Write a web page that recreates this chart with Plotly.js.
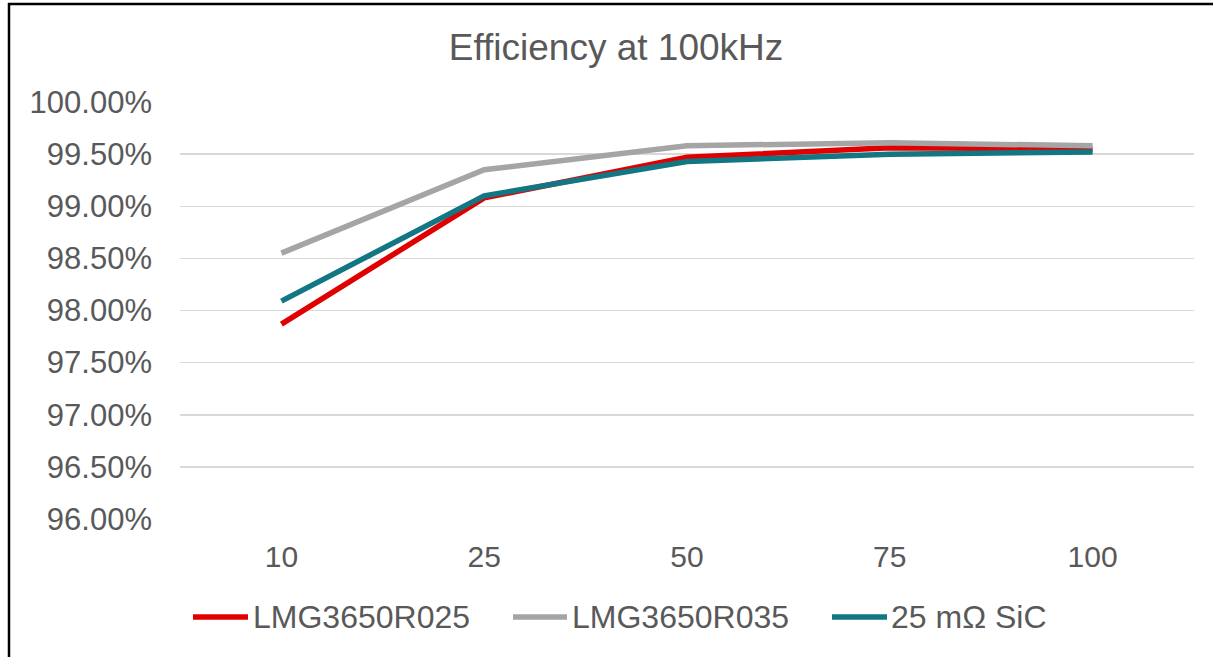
<!DOCTYPE html>
<html>
<head>
<meta charset="utf-8">
<script src="https://cdn.plot.ly/plotly-3.0.1.min.js"></script>
<style>
  html, body { margin: 0; padding: 0; background: #fff; }
  #chart { width: 1213px; height: 657px; }
</style>
</head>
<body>
<div id="chart"></div>
<script>
// Load levels (x axis categories)
const loads = ['10', '25', '50', '75', '100'];

// Efficiency (%) per device
const seriesNames = ['LMG3650R025', 'LMG3650R035', '25 mΩ SiC'];
const effR025 = [97.87, 99.08, 99.47, 99.56, 99.55];
const effR035 = [98.55, 99.35, 99.58, 99.61, 99.58];
const effSiC  = [98.09, 99.10, 99.43, 99.50, 99.52];

// Y axis ticks
const yTickVals = [96.0, 96.5, 97.0, 97.5, 98.0, 98.5, 99.0, 99.5, 100.0];
const yTickText = ['96.00%', '96.50%', '97.00%', '97.50%', '98.00%', '98.50%', '99.00%', '99.50%', '100.00%'];

const colors = ['#E00000', '#A5A5A5', '#137683'];
const seriesValues = [effR025, effR035, effSiC];

const W = 1213, H = 657;
const M = { l: 180, r: 19, t: 102, b: 138 };
const plotW = W - M.l - M.r;
const plotH = H - M.t - M.b;
const px2x = px => (px - M.l) / plotW;
const py2y = py => (H - M.b - py) / plotH;

const font = 'Liberation Sans, Arial, sans-serif';
const textColor = '#595959';

const traces = seriesNames.map((name, i) => ({
  type: 'scatter',
  mode: 'lines',
  name: name,
  x: loads,
  y: seriesValues[i],
  line: { color: colors[i], width: 5.5 },
  hoverinfo: 'x+y+name'
}));

// Legend drawn as line swatches plus labels under the plot
const legendItems = [
  { lineX0: 193, lineX1: 248, textX: 251 },
  { lineX0: 513, lineX1: 567, textX: 570 },
  { lineX0: 832, lineX1: 887, textX: 889 }
];
const legendY = 617;

const shapes = [];
const annotations = [];
legendItems.forEach((it, i) => {
  shapes.push({
    type: 'line', xref: 'paper', yref: 'paper',
    x0: px2x(it.lineX0), x1: px2x(it.lineX1),
    y0: py2y(legendY), y1: py2y(legendY),
    line: { color: colors[i], width: 5.5 }
  });
  annotations.push({
    xref: 'paper', yref: 'paper',
    x: px2x(it.textX), y: py2y(legendY),
    xanchor: 'left', yanchor: 'middle',
    text: seriesNames[i], showarrow: false,
    font: { family: font, size: 32, color: textColor }
  });
});

// Outer chart frame (left and top edges)
shapes.push({
  type: 'line', xref: 'paper', yref: 'paper',
  x0: px2x(9), x1: px2x(9), y0: py2y(3), y1: py2y(H + 5),
  line: { color: '#000', width: 2.5 }
});
shapes.push({
  type: 'line', xref: 'paper', yref: 'paper',
  x0: px2x(8), x1: px2x(W + 5), y0: py2y(4), y1: py2y(4),
  line: { color: '#000', width: 2.5 }
});

const layout = {
  width: W, height: H,
  margin: M,
  paper_bgcolor: '#fff',
  plot_bgcolor: '#fff',
  showlegend: false,
  title: {
    text: 'Efficiency at 100kHz',
    font: { family: font, size: 37, color: textColor },
    x: 616 / W, xref: 'container', xanchor: 'center',
    y: 1 - 47 / H, yref: 'container', yanchor: 'middle'
  },
  xaxis: {
    type: 'category',
    range: [-0.5, loads.length - 0.5],
    showgrid: false,
    showline: false,
    zeroline: false,
    ticks: '',
    tickfont: { family: font, size: 30, color: textColor },
    ticklabelstandoff: 17
  },
  yaxis: {
    range: [96, 100],
    tickvals: yTickVals,
    ticktext: yTickText,
    showgrid: true,
    gridcolor: '#D9D9D9',
    gridwidth: 1.5,
    zeroline: false,
    showline: false,
    ticks: '',
    tickfont: { family: font, size: 31, color: textColor },
    ticklabelstandoff: 27
  },
  shapes: shapes,
  annotations: annotations
};

Plotly.newPlot('chart', traces, layout, { displayModeBar: false, staticPlot: true });
</script>
</body>
</html>
